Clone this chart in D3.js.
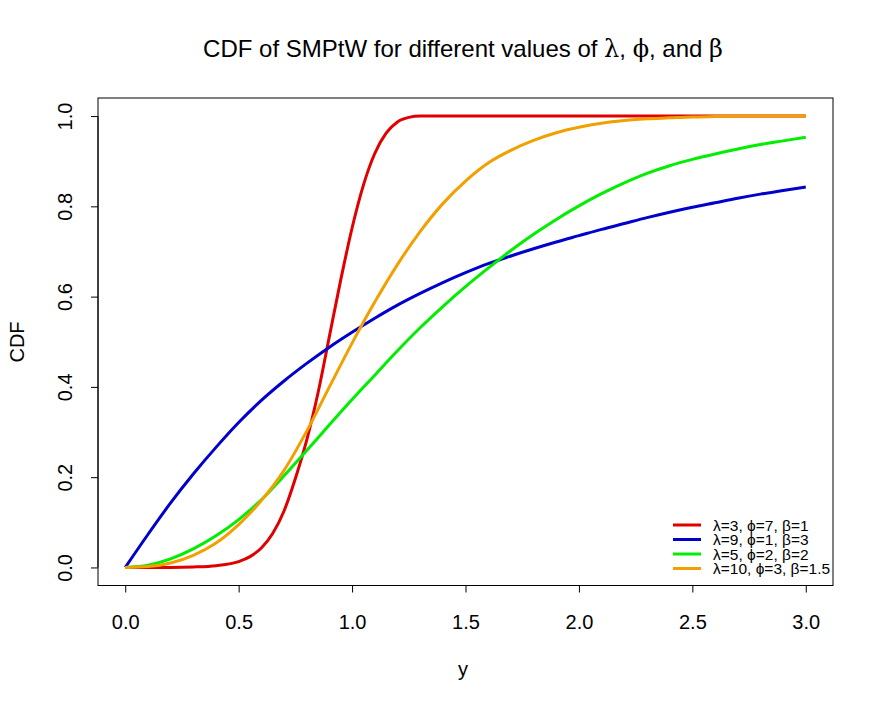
<!DOCTYPE html>
<html lang="en">
<head>
<meta charset="UTF-8">
<title>CDF of SMPtW</title>
<script src="https://cdn.jsdelivr.net/npm/d3@7/dist/d3.min.js"></script>
<style>
body{margin:0;background:#fff}
svg{display:block;font-family:"Liberation Sans",Arial,sans-serif}
.tick text{font-size:20px;fill:#000}
.greek{font-family:"DejaVu Serif","Liberation Serif",serif}
</style>
</head>
<body>
<svg id="chart" width="882" height="708"></svg>
<script>
// values
var xTicks = [0, 0.5, 1, 1.5, 2, 2.5, 3];
var yTicks = [0, 0.2, 0.4, 0.6, 0.8, 1];

var gridX = [0, 0.1, 0.2, 0.3, 0.4, 0.5, 0.6, 0.7, 0.8, 0.9, 1.0, 1.1, 1.2, 1.3, 1.4, 1.5,
             1.6, 1.7, 1.8, 1.9, 2.0, 2.1, 2.2, 2.3, 2.4, 2.5, 2.6, 2.7, 2.8, 2.9, 3.0];

var redX = [0, 0.1, 0.2, 0.3, 0.4, 0.5, 0.55, 0.6, 0.65, 0.7, 0.75, 0.8, 0.85, 0.9, 0.95,
            1.0, 1.05, 1.1, 1.15, 1.2, 1.25, 1.3, 1.5, 2.0, 2.5, 3.0];
var redY = [0, 0, 0, 0.001, 0.004, 0.013, 0.024, 0.043, 0.075, 0.125, 0.197, 0.282, 0.387, 0.512, 0.637,
            0.752, 0.847, 0.917, 0.962, 0.987, 0.997, 1, 1, 1, 1, 1];

var blueY = [0, 0.073, 0.143, 0.207, 0.266, 0.321, 0.37, 0.413, 0.452, 0.488, 0.521, 0.552, 0.581, 0.607,
             0.631, 0.653, 0.673, 0.690, 0.706, 0.721, 0.735, 0.749, 0.762, 0.775, 0.787, 0.798,
             0.808, 0.818, 0.827, 0.835, 0.843];

var greenY = [0, 0.005, 0.019, 0.041, 0.070, 0.106, 0.150, 0.203, 0.259, 0.316, 0.372, 0.426, 0.480, 0.531,
              0.578, 0.622, 0.663, 0.702, 0.738, 0.771, 0.801, 0.828, 0.852, 0.873, 0.890, 0.904,
              0.916, 0.927, 0.937, 0.945, 0.953];

var orangeY = [0, 0.002, 0.01, 0.027, 0.054, 0.095, 0.148, 0.215, 0.302, 0.40, 0.497, 0.588, 0.671, 0.744,
               0.806, 0.856, 0.896, 0.924, 0.946, 0.963, 0.975, 0.984, 0.990, 0.994, 0.996, 0.998,
               0.999, 1, 1, 1, 1];

var legendLabels = ["λ=3, ϕ=7, β=1", "λ=9, ϕ=1, β=3", "λ=5, ϕ=2, β=2", "λ=10, ϕ=3, β=1.5"];
var colors = ["#e00000", "#0000cd", "#00ee00", "#f2a000"];

var series = [
  redX.map(function(x, i) { return [x, redY[i]]; }),
  gridX.map(function(x, i) { return [x, blueY[i]]; }),
  gridX.map(function(x, i) { return [x, greenY[i]]; }),
  gridX.map(function(x, i) { return [x, orangeY[i]]; })
];

var svg = d3.select('#chart');
var plotL = 98, plotR = 833, plotT = 98, plotB = 585.5;

// R style: 4% padding on each axis
var x = d3.scaleLinear().domain([-0.12, 3.12]).range([plotL, plotR]);
var y = d3.scaleLinear().domain([-0.04, 1.04]).range([plotB, plotT]);

// curves
var line = d3.line()
  .x(function(d) { return x(d[0]); })
  .y(function(d) { return y(d[1]); })
  .curve(d3.curveMonotoneX);

series.forEach(function(s, i) {
  svg.append('path')
    .datum(s)
    .attr('d', line)
    .attr('fill', 'none')
    .attr('stroke', colors[i])
    .attr('stroke-width', 3);
});

// plot box
svg.append('rect')
  .attr('x', plotL).attr('y', plotT)
  .attr('width', plotR - plotL).attr('height', plotB - plotT)
  .attr('fill', 'none').attr('stroke', '#000').attr('stroke-width', 1);

// axes
var xAxis = svg.append('g').attr('transform', 'translate(0,' + plotB + ')')
  .call(d3.axisBottom(x).tickValues(xTicks).tickFormat(d3.format('.1f')).tickSize(7));
xAxis.select('.domain').attr('d', 'M' + x(0) + ',0H' + x(3));
xAxis.selectAll('.tick text').attr('y', 43).attr('dy', 0);

var yAxis = svg.append('g').attr('transform', 'translate(' + plotL + ',0)')
  .call(d3.axisLeft(y).tickValues(yTicks).tickFormat(d3.format('.1f')).tickSize(7));
yAxis.select('.domain').attr('d', 'M0,' + y(0) + 'V' + y(1));
yAxis.selectAll('.tick text')
  .attr('x', 0).attr('dy', 0)
  .attr('text-anchor', 'middle')
  .attr('transform', 'translate(-26,0) rotate(-90)');

// title
var title = svg.append('text')
  .attr('x', 463).attr('y', 57)
  .attr('text-anchor', 'middle')
  .attr('font-size', 24);
title.append('tspan').text('CDF of SMPtW for different values of ');
title.append('tspan').attr('class', 'greek').text('λ');
title.append('tspan').text(', ');
title.append('tspan').attr('class', 'greek').text('ϕ');
title.append('tspan').text(', and ');
title.append('tspan').attr('class', 'greek').text('β');

// axis labels
svg.append('text')
  .attr('x', 463).attr('y', 676)
  .attr('text-anchor', 'middle').attr('font-size', 20)
  .text('y');

svg.append('text')
  .attr('transform', 'translate(24,342) rotate(-90)')
  .attr('text-anchor', 'middle').attr('font-size', 20)
  .text('CDF');

// legend
var legend = svg.append('g');
legendLabels.forEach(function(lab, i) {
  var ly = 525 + i * 14.5;
  legend.append('line')
    .attr('x1', 673).attr('x2', 701)
    .attr('y1', ly).attr('y2', ly)
    .attr('stroke', colors[i]).attr('stroke-width', 3);
  legend.append('text')
    .attr('x', 713).attr('y', ly + 5.5)
    .attr('font-size', 15.5)
    .text(lab);
});
</script>
</body>
</html>
